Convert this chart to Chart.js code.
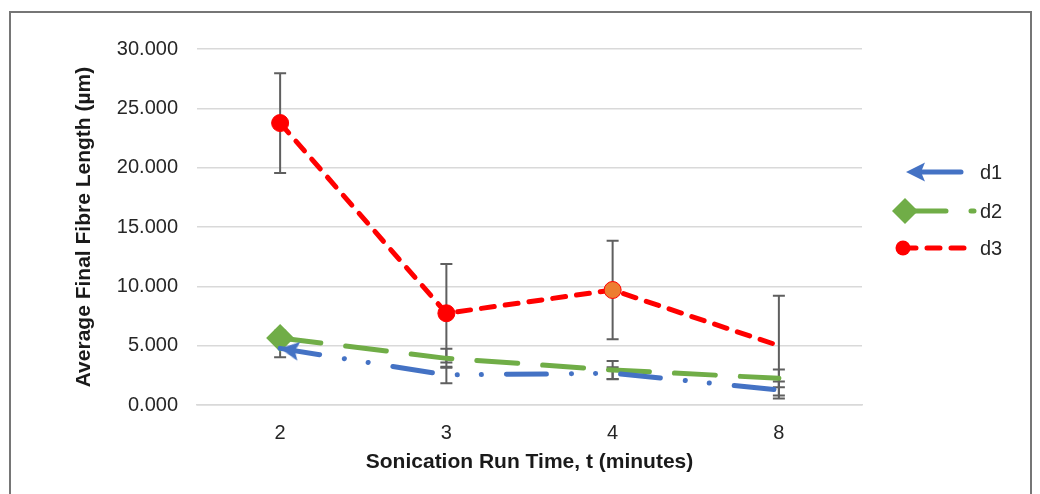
<!DOCTYPE html>
<html>
<head>
<meta charset="utf-8">
<script src="https://cdn.jsdelivr.net/npm/chart.js@4/dist/chart.umd.min.js"></script>
<style>
  body { margin: 0; background: #fff; }
  #wrap { position: relative; width: 1040px; height: 494px; }
  #frame { position: absolute; left: 9px; top: 11px; width: 1023px; height: 500px; border: 2px solid #767676; box-sizing: border-box; }
  canvas { position: absolute; left: 0; top: 0; }
</style>
</head>
<body>
<div id="wrap">
  <div id="frame"></div>
  <canvas id="fibreChart" width="1040" height="494"></canvas>
</div>
<script>
// Average final fibre length vs sonication time
const categories = ['2', '3', '4', '8'];

const d1Values = [4.77, 2.53, 2.68, 1.26];
const d1Errors = [0.75, 0.70, 0.50, 0.72];
const d2Values = [5.65, 3.93, 2.95, 2.25];
const d2Errors = [0.60, 0.80, 0.75, 0.75];
const d3Values = [23.76, 7.73, 9.69, 5.00];
const d3Errors = [4.20, 4.15, 4.15, 4.20];

const yMin = 0;
const yMax = 30;
const yStep = 5;

const errorSets = [d1Errors, d2Errors, d3Errors];

Chart.defaults.font.family = '"Liberation Sans", Arial, sans-serif';

// arrow head for start of d1 (tip at canvas centre, pointing left)
function makeArrow(color) {
  const c = document.createElement('canvas');
  c.width = 48; c.height = 48;
  const g = c.getContext('2d');
  g.fillStyle = color;
  g.beginPath();
  g.moveTo(24, 24);
  g.lineTo(43, 14.5);
  g.lineTo(39, 24);
  g.lineTo(43, 33.5);
  g.closePath();
  g.fill();
  return c;
}
const arrowImg = makeArrow('#4472C4');

function drawMarker(ctx, style, r, fill, stroke, x, y) {
  if (style instanceof HTMLCanvasElement) {
    ctx.drawImage(style, x - style.width / 2, y - style.height / 2);
    return;
  }
  ctx.beginPath();
  if (style === 'rectRot') {
    ctx.moveTo(x - r, y); ctx.lineTo(x, y - r); ctx.lineTo(x + r, y); ctx.lineTo(x, y + r);
    ctx.closePath();
  } else {
    ctx.arc(x, y, r, 0, Math.PI * 2);
  }
  ctx.fillStyle = fill;
  ctx.fill();
  if (stroke) { ctx.strokeStyle = stroke; ctx.lineWidth = 1; ctx.stroke(); }
}

const errorBarPlugin = {
  id: 'errorBars',
  beforeDatasetsDraw(chart) {
    const ctx = chart.ctx;
    const y = chart.scales.y;
    ctx.save();
    ctx.strokeStyle = '#5f5f5f';
    ctx.lineWidth = 2;
    chart.data.datasets.forEach((ds, i) => {
      const meta = chart.getDatasetMeta(i);
      meta.data.forEach((pt, j) => {
        const e = errorSets[i][j];
        const top = y.getPixelForValue(ds.data[j] + e);
        const bot = y.getPixelForValue(ds.data[j] - e);
        ctx.beginPath();
        ctx.moveTo(pt.x, top); ctx.lineTo(pt.x, bot);
        ctx.moveTo(pt.x - 6, top); ctx.lineTo(pt.x + 6, top);
        ctx.moveTo(pt.x - 6, bot); ctx.lineTo(pt.x + 6, bot);
        ctx.stroke();
      });
    });
    ctx.restore();
  }
};

const legendRows = [172, 211, 248];
const legendMarkers = [
  { style: arrowImg, r: 0, fill: '#4472C4', stroke: null, x: 906, lineFrom: 918, lineTo: 961, dash: [] },
  { style: 'rectRot', r: 13, fill: '#70AD47', stroke: null, x: 905, lineFrom: 905, lineTo: 974, dash: null },
  { style: 'circle', r: 7.5, fill: '#FF0000', stroke: null, x: 903, lineFrom: 903, lineTo: 968, dash: null }
];

const sideLegendPlugin = {
  id: 'sideLegend',
  afterDraw(chart) {
    const ctx = chart.ctx;
    ctx.save();
    chart.data.datasets.forEach((ds, i) => {
      const yy = legendRows[i];
      const m = legendMarkers[i];
      ctx.strokeStyle = ds.borderColor;
      ctx.lineWidth = ds.borderWidth;
      ctx.lineCap = 'round';
      ctx.setLineDash(m.dash || ds.borderDash);
      ctx.beginPath();
      ctx.moveTo(m.lineFrom, yy); ctx.lineTo(m.lineTo, yy);
      ctx.stroke();
      ctx.setLineDash([]);
      drawMarker(ctx, m.style, m.r, m.fill, m.stroke, m.x, yy);
      ctx.fillStyle = '#262626';
      ctx.font = '20px "Liberation Sans", Arial, sans-serif';
      ctx.textBaseline = 'middle';
      ctx.fillText(ds.label, 980, yy + 1);
    });
    ctx.restore();
  }
};

new Chart(document.getElementById('fibreChart'), {
  type: 'line',
  data: {
    labels: categories,
    datasets: [{
      label: 'd1',
      data: d1Values,
      borderColor: '#4472C4',
      borderWidth: 5,
      borderDash: [40, 25, 0.1, 24, 0.1, 25],
      borderCapStyle: 'round',
      tension: 0,
      pointStyle: [arrowImg, 'circle', 'circle', 'circle'],
      pointRadius: [5, 0, 0, 0],
      pointRotation: [9, 0, 0, 0],
      pointBorderWidth: 0
    }, {
      label: 'd2',
      data: d2Values,
      borderColor: '#70AD47',
      borderWidth: 5,
      borderDash: [41, 25],
      borderCapStyle: 'round',
      tension: 0,
      pointStyle: 'rectRot',
      pointRadius: [14, 0, 0, 0],
      pointBackgroundColor: '#70AD47',
      pointBorderWidth: 0
    }, {
      label: 'd3',
      data: d3Values,
      borderColor: '#FF0000',
      borderWidth: 5,
      borderDash: [13, 11],
      borderCapStyle: 'round',
      tension: 0,
      pointStyle: 'circle',
      pointRadius: [8.5, 8.5, 8.5, 0],
      pointBackgroundColor: ['#FF0000', '#FF0000', '#ED7D31', '#FF0000'],
      pointBorderColor: '#FF0000',
      pointBorderWidth: 1
    }]
  },
  options: {
    responsive: false,
    animation: false,
    events: [],
    layout: { padding: { left: 0, top: 49, right: 178, bottom: 0 } },
    plugins: {
      legend: { display: false },
      tooltip: { enabled: false }
    },
    scales: {
      x: {
        offset: true,
        grid: { display: false },
        border: { display: true, color: '#d9d9d9', width: 1.5 },
        ticks: { color: '#262626', font: { size: 20 }, padding: 8 },
        title: {
          display: true,
          text: 'Sonication Run Time, t (minutes)',
          color: '#1a1a1a',
          font: { size: 21, weight: 'bold' },
          padding: { top: 0, bottom: 19 }
        },
        afterFit(scale) { scale.height = 89; }
      },
      y: {
        min: yMin,
        max: yMax,
        grid: { color: '#d9d9d9', lineWidth: 1.5, drawTicks: false },
        border: { display: false },
        ticks: {
          stepSize: yStep,
          color: '#262626',
          font: { size: 20 },
          padding: 19,
          callback: v => v.toFixed(3)
        },
        title: {
          display: true,
          text: 'Average Final Fibre Length (µm)',
          color: '#1a1a1a',
          font: { size: 21, weight: 'bold' },
          padding: { top: 72, bottom: 0 }
        },
        afterFit(scale) { scale.width = 197; }
      }
    }
  },
  plugins: [errorBarPlugin, sideLegendPlugin]
});
</script>
</body>
</html>
